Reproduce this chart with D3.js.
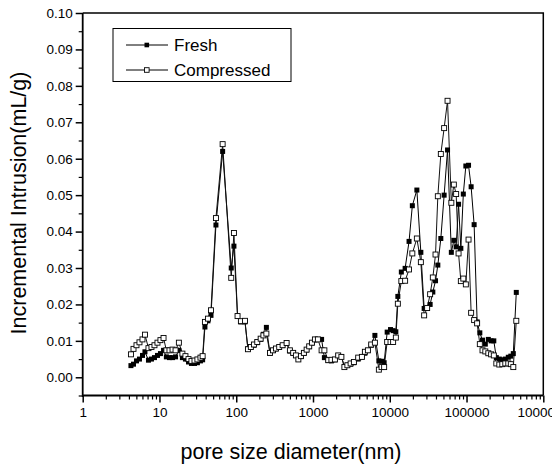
<!DOCTYPE html>
<html>
<head>
<meta charset="utf-8">
<script src="https://cdn.jsdelivr.net/npm/d3@7"></script>
<style>
  body { margin: 0; background: #fff; }
  svg { display: block; font-family: Arial, "Liberation Sans", sans-serif; }
</style>
</head>
<body>
<div id="chart"></div>
<script>
// pore diameters (nm), shared by both samples
const diameters = [
  4.25, 4.59, 5.02, 5.49, 6.01, 6.47, 7.19, 7.87, 8.61, 9.42,
  10.3, 11.3, 12.3, 13.5, 14.8, 16.2, 17.9, 19.9, 21.8, 23.9,
  26.1, 28.6, 31.2, 34.2, 36.5, 39.1, 42.8, 46.9, 54.4, 66.5,
  86.1, 93.3, 104, 115, 130, 142, 155, 170, 188, 208,
  226, 247, 275, 301, 329, 363, 402, 453, 500, 552,
  599, 645, 696, 761, 826, 893, 968, 1059, 1158, 1294,
  1407, 1578, 1738, 1929, 2130, 2344, 2565, 2805, 3090, 3410,
  3880, 4335, 4740, 5190, 5730, 6400, 7210, 7820, 8450, 9250,
  10230, 11060, 12000, 12740, 14150, 15850, 17830, 19680, 22540, 25410,
  28050, 30690, 33570, 36390, 39450, 42280, 46260, 51070, 56580, 63400,
  68340, 73230, 78730, 84330, 90820, 97950, 106200, 114800, 125600, 137400,
  149000, 161500, 175700, 192200, 209000, 226600, 244400, 267300, 292400, 319900,
  349900, 377400, 406700, 444800
];

// incremental intrusion (mL/g)
const fresh = [
  0.0032, 0.0036, 0.0045, 0.0050, 0.0060, 0.0070, 0.0047, 0.0050, 0.0054, 0.0060,
  0.0065, 0.0074, 0.0056, 0.0054, 0.0054, 0.0056, 0.0074, 0.0054, 0.0050, 0.0042,
  0.0038, 0.0038, 0.0040, 0.0045, 0.0048, 0.0138, 0.0155, 0.0170, 0.0418, 0.0620,
  0.0300, 0.0360, 0.0168, 0.0152, 0.0152, 0.0078, 0.0082, 0.0088, 0.0095, 0.0104,
  0.0118, 0.0137, 0.0066, 0.0074, 0.0078, 0.0082, 0.0087, 0.0093, 0.0072, 0.0066,
  0.0060, 0.0050, 0.0057, 0.0066, 0.0075, 0.0084, 0.0094, 0.0103, 0.0104, 0.0104,
  0.0054, 0.0046, 0.0045, 0.0048, 0.0060, 0.0057, 0.0030, 0.0033, 0.0036, 0.0040,
  0.0050, 0.0056, 0.0066, 0.0074, 0.0088, 0.0115, 0.0045, 0.0044, 0.0040, 0.0124,
  0.0131, 0.0128, 0.0125, 0.0222, 0.0289, 0.0299, 0.0373, 0.0471, 0.0514, 0.0343,
  0.0189, 0.0189, 0.0200, 0.0234, 0.0265, 0.0308, 0.0381, 0.0500, 0.0624, 0.0343,
  0.0376, 0.0358, 0.0475, 0.0354, 0.0503, 0.0580, 0.0582, 0.0523, 0.0419, 0.0152,
  0.0122, 0.0102, 0.0091, 0.0104, 0.0100, 0.0100, 0.0054, 0.0050, 0.0048, 0.0050,
  0.0055, 0.0058, 0.0065, 0.0233
];

const compressed = [
  0.0063, 0.0078, 0.0088, 0.0096, 0.0104, 0.0117, 0.0080, 0.0083, 0.0088, 0.0095,
  0.0102, 0.0108, 0.0074, 0.0074, 0.0076, 0.0074, 0.0095, 0.0065, 0.0058, 0.0050,
  0.0045, 0.0046, 0.0049, 0.0054, 0.0058, 0.0152, 0.0161, 0.0184, 0.0437, 0.0640,
  0.0273, 0.0396, 0.0168, 0.0154, 0.0155, 0.0077, 0.0083, 0.0090, 0.0097, 0.0106,
  0.0115, 0.0120, 0.0067, 0.0074, 0.0079, 0.0083, 0.0088, 0.0094, 0.0074, 0.0067,
  0.0060, 0.0049, 0.0058, 0.0067, 0.0076, 0.0085, 0.0095, 0.0104, 0.0104, 0.0074,
  0.0074, 0.0047, 0.0048, 0.0049, 0.0060, 0.0056, 0.0028, 0.0033, 0.0038, 0.0042,
  0.0054, 0.0056, 0.0070, 0.0074, 0.0090, 0.0095, 0.0021, 0.0028, 0.0028, 0.0097,
  0.0097, 0.0097, 0.0109, 0.0202, 0.0264, 0.0265, 0.0296, 0.0340, 0.0381, 0.0316,
  0.0170, 0.0190, 0.0228, 0.0274, 0.0337, 0.0497, 0.0613, 0.0684, 0.0759, 0.0479,
  0.0529, 0.0503, 0.0340, 0.0264, 0.0271, 0.0255, 0.0378, 0.0177, 0.0157, 0.0148,
  0.0091, 0.0074, 0.0071, 0.0066, 0.0063, 0.0060, 0.0038, 0.0035, 0.0036, 0.0038,
  0.0038, 0.0036, 0.0028, 0.0155
];

const seriesNames = ["Fresh", "Compressed"];
const yTickValues = [0.00, 0.01, 0.02, 0.03, 0.04, 0.05, 0.06, 0.07, 0.08, 0.09, 0.10];
const xTickValues = [1, 10, 100, 1000, 10000, 100000, 1000000];

const W = 552, H = 471;
const plotL = 82.7, plotR = 543.3, plotT = 13, plotB = 395.5;

const svg = d3.select("#chart")
  .append("svg")
  .attr("width", W)
  .attr("height", H);

const x = d3.scaleLog().domain([1, 1e6]).range([plotL, plotR]);
const y = d3.scaleLinear().domain([-0.005, 0.10]).range([plotB, plotT]);

// frame (top + right)
svg.append("path")
  .attr("d", `M${plotL},${plotT}H${plotR}V${plotB}`)
  .attr("fill", "none")
  .attr("stroke", "#000")
  .attr("stroke-width", 1.5);

// minor ticks
const xMinor = [];
for (let e = 0; e < 6; e++) for (let m = 2; m <= 9; m++) xMinor.push(m * Math.pow(10, e));
svg.append("g")
  .attr("transform", `translate(0,${plotB})`)
  .call(d3.axisBottom(x).tickValues(xMinor).tickSize(4).tickFormat(""))
  .call(g => g.select(".domain").remove())
  .selectAll("line").attr("stroke-width", 1.2);

const yMinor = d3.range(-0.005, 0.1, 0.01);
svg.append("g")
  .attr("transform", `translate(${plotL},0)`)
  .call(d3.axisLeft(y).tickValues(yMinor).tickSize(4).tickFormat(""))
  .call(g => g.select(".domain").remove())
  .selectAll("line").attr("stroke-width", 1.2);

// major axes
const xAxis = svg.append("g")
  .attr("transform", `translate(0,${plotB})`)
  .call(d3.axisBottom(x).tickValues(xTickValues).tickSize(7).tickPadding(5)
    .tickFormat(d3.format("d")));
xAxis.select(".domain").attr("stroke-width", 1.8).attr("d", `M${plotL},0H${plotR}`);
xAxis.selectAll("line").attr("stroke-width", 1.5);
xAxis.selectAll("text").attr("font-size", 13.5).attr("fill", "#000")
  .attr("font-family", "Arial, 'Liberation Sans', sans-serif");

const yAxis = svg.append("g")
  .attr("transform", `translate(${plotL},0)`)
  .call(d3.axisLeft(y).tickValues(yTickValues).tickSize(7).tickPadding(3)
    .tickFormat(d3.format(".2f")));
yAxis.select(".domain").attr("stroke-width", 1.8).attr("d", `M0,${plotB + 1.5}V${plotT}`);
yAxis.selectAll("line").attr("stroke-width", 1.5);
yAxis.selectAll("text").attr("font-size", 13.5).attr("fill", "#000")
  .attr("font-family", "Arial, 'Liberation Sans', sans-serif");

// axis titles
svg.append("text")
  .attr("x", 291)
  .attr("y", 459)
  .attr("text-anchor", "middle")
  .attr("font-size", 21.5)
  .text("pore size diameter(nm)");

svg.append("text")
  .attr("transform", "translate(26,203) rotate(-90)")
  .attr("text-anchor", "middle")
  .attr("font-size", 21.5)
  .text("Incremental Intrusion(mL/g)");

// series
const line = d3.line()
  .x(d => x(d[0]))
  .y(d => y(d[1]));

const freshPts = diameters.map((d, i) => [d, fresh[i]]);
const compPts = diameters.map((d, i) => [d, compressed[i]]);

svg.append("path")
  .datum(freshPts)
  .attr("d", line)
  .attr("fill", "none")
  .attr("stroke", "#000")
  .attr("stroke-width", 1);

svg.append("path")
  .datum(compPts)
  .attr("d", line)
  .attr("fill", "none")
  .attr("stroke", "#111")
  .attr("stroke-width", 1);

svg.append("g").selectAll("rect")
  .data(freshPts)
  .join("rect")
  .attr("x", d => x(d[0]) - 2.5)
  .attr("y", d => y(d[1]) - 2.5)
  .attr("width", 5)
  .attr("height", 5)
  .attr("fill", "#000");

svg.append("g").selectAll("rect")
  .data(compPts)
  .join("rect")
  .attr("x", d => x(d[0]) - 2.5)
  .attr("y", d => y(d[1]) - 2.5)
  .attr("width", 5)
  .attr("height", 5)
  .attr("fill", "#fff")
  .attr("stroke", "#000")
  .attr("stroke-width", 0.9);

// legend
const legend = svg.append("g");
legend.append("rect")
  .attr("x", 113)
  .attr("y", 28.5)
  .attr("width", 178)
  .attr("height", 53)
  .attr("fill", "#fff")
  .attr("stroke", "#000")
  .attr("stroke-width", 1);

const items = legend.selectAll(".item")
  .data(seriesNames)
  .join("g")
  .attr("class", "item")
  .attr("transform", (d, i) => `translate(0,${45 + i * 25})`);

items.append("line")
  .attr("x1", 126).attr("x2", 168)
  .attr("stroke", "#000").attr("stroke-width", 1);

items.append("rect")
  .attr("x", 144.5).attr("y", -2.3)
  .attr("width", 4.6).attr("height", 4.6)
  .attr("fill", (d, i) => i === 0 ? "#000" : "#fff")
  .attr("stroke", "#000")
  .attr("stroke-width", (d, i) => i === 0 ? 0 : 0.9);

items.append("text")
  .attr("x", 174)
  .attr("y", 6)
  .attr("font-size", 17)
  .text(d => d);
</script>
</body>
</html>
